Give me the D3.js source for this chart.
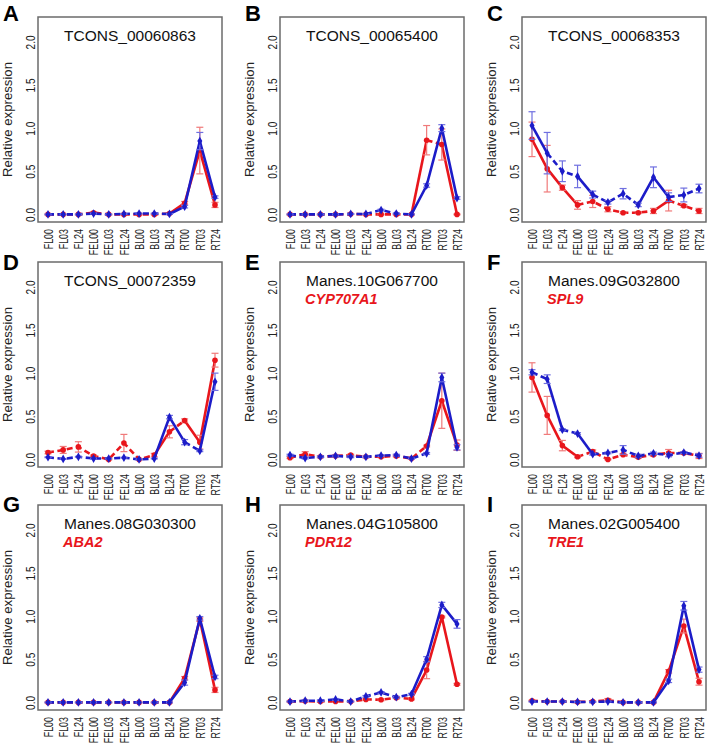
<!DOCTYPE html>
<html><head><meta charset="utf-8">
<script src="https://cdn.jsdelivr.net/npm/d3@7"></script>
<style>
body{margin:0;background:#fff}
svg{display:block}
text{font-family:"Liberation Sans",Arial,sans-serif}
</style>
</head><body>
<svg id="chart" width="709" height="747"></svg>
<script>
// ---------------- data ----------------
const categories = ["FL00","FL03","FL24","FEL00","FEL03","FEL24","BL00","BL03","BL24","RT00","RT03","RT24"];
const panelLetters = ["A","B","C","D","E","F","G","H","I"];
const panelTitles = ["TCONS_00060863","TCONS_00065400","TCONS_00068353","TCONS_00072359",
  "Manes.10G067700","Manes.09G032800","Manes.08G030300","Manes.04G105800","Manes.02G005400"];
const geneNames = ["","","","","CYP707A1","SPL9","ABA2","PDR12","TRE1"];
const yTicks = [0, 0.5, 1.0, 1.5, 2.0];
const yLabel = "Relative expression";

const redValues = [
  [0,0,0,0.02,0,0,0,0,0.01,0.13,0.74,0.11],
  [0,0,0,0,0.005,0,0,0,0,0.86,0.81,0],
  [0.87,0.53,0.31,0.11,0.15,0.06,0.02,0.02,0.04,0.16,0.10,0.04],
  [0.08,0.11,0.145,0.04,0.0,0.19,0.0,0.05,0.32,0.45,0.20,1.15],
  [0.02,0.06,0.03,0.04,0.05,0.03,0.03,0.04,0.01,0.155,0.68,0.165],
  [0.95,0.51,0.16,0.03,0.09,0.0,0.055,0.025,0.055,0.075,0.075,0.04],
  [0,0,0,0,0,0,0,0,0,0.28,0.96,0.145],
  [0.01,0.015,0.01,0.01,0.01,0.035,0.03,0.055,0.04,0.375,0.99,0.21],
  [0.02,0.01,0.01,0.005,0.01,0.025,0,0,0,0.36,0.885,0.24]
];
const redErrors = [
  [0.005,0.005,0.005,0.01,0.005,0.005,0.005,0.005,0.005,0.02,0.27,0.03],
  [0.005,0.005,0.005,0.005,0.005,0.005,0.005,0.005,0.005,0.17,0.18,0.005],
  [0.2,0.27,0.03,0.05,0.07,0.03,0.01,0.01,0.03,0.12,0.015,0.03],
  [0.015,0.04,0.06,0.01,0.005,0.1,0.005,0.02,0.07,0.02,0.08,0.08],
  [0.01,0.03,0.01,0.01,0.01,0.01,0.01,0.01,0.005,0.01,0.32,0.06],
  [0.17,0.22,0.06,0.01,0.02,0.005,0.01,0.01,0.01,0.04,0.01,0.03],
  [0.005,0.005,0.005,0.005,0.005,0.005,0.005,0.005,0.005,0.02,0.02,0.03],
  [0.005,0.01,0.01,0.01,0.005,0.01,0.01,0.01,0.01,0.1,0.01,0.01],
  [0.005,0.005,0.005,0.005,0.005,0.02,0.005,0.005,0.005,0.02,0.08,0.04]
];
const blueValues = [
  [0,0,0,0.01,0,0.005,0.01,0.01,0.005,0.09,0.85,0.2],
  [0,0,0,0,0.005,0.005,0.05,0.01,0,0.335,1.0,0.19],
  [1.03,0.71,0.50,0.44,0.23,0.14,0.24,0.11,0.43,0.20,0.225,0.30],
  [0.025,0.005,0.03,0.01,0.01,0.02,0.0,0.01,0.49,0.20,0.10,0.90],
  [0.05,0.015,0.03,0.04,0.03,0.03,0.045,0.05,0.01,0.07,0.95,0.14],
  [1.01,0.93,0.345,0.30,0.06,0.075,0.11,0.04,0.07,0.05,0.08,0.045],
  [0,0,0,0,0,0,0,0,0,0.23,0.975,0.295],
  [0.01,0.02,0.02,0.035,0.01,0.07,0.115,0.06,0.095,0.5,1.13,0.91],
  [0.01,0.01,0.01,0.005,0.005,0.01,0,0,0,0.25,1.12,0.38]
];
const blueErrors = [
  [0.005,0.005,0.005,0.005,0.005,0.005,0.005,0.005,0.005,0.015,0.1,0.015],
  [0.005,0.005,0.005,0.005,0.005,0.005,0.01,0.005,0.005,0.02,0.04,0.015],
  [0.16,0.24,0.12,0.13,0.04,0.02,0.06,0.02,0.12,0.05,0.08,0.05],
  [0.005,0.005,0.005,0.005,0.005,0.005,0.005,0.005,0.02,0.03,0.01,0.1],
  [0.01,0.01,0.01,0.01,0.01,0.01,0.01,0.01,0.005,0.01,0.05,0.03],
  [0.03,0.05,0.01,0.01,0.01,0.01,0.05,0.02,0.015,0.02,0.01,0.02],
  [0.005,0.005,0.005,0.005,0.005,0.005,0.005,0.005,0.005,0.03,0.02,0.02],
  [0.005,0.01,0.01,0.01,0.005,0.01,0.01,0.01,0.01,0.03,0.03,0.05],
  [0.005,0.005,0.005,0.005,0.005,0.005,0.005,0.005,0.005,0.02,0.05,0.03]
];
// significant change between consecutive samples (1 = significant)
const redSignificant = [
  [0,0,0,0,0,0,0,0,1,1,1],
  [0,0,0,0,0,0,0,0,1,0,1],
  [1,1,1,0,0,0,0,0,1,0,0],
  [0,0,0,0,0,0,0,1,0,1,1],
  [0,0,0,0,0,0,0,0,0,1,1],
  [1,1,1,0,0,0,0,0,0,0,0],
  [0,0,0,0,0,0,0,0,1,1,1],
  [0,0,0,0,0,0,0,0,1,1,1],
  [0,0,0,0,0,0,0,0,1,1,1]
];
const blueSignificant = [
  [0,0,0,0,0,0,0,0,1,1,1],
  [0,0,0,0,0,0,0,0,1,1,1],
  [1,0,0,1,0,0,0,1,1,0,0],
  [0,0,0,0,0,0,0,1,1,0,1],
  [0,0,0,0,0,0,0,0,0,1,1],
  [0,1,0,1,0,0,0,0,0,0,0],
  [0,0,0,0,0,0,0,0,1,1,1],
  [0,0,0,0,0,0,0,0,1,1,1],
  [0,0,0,0,0,0,0,0,1,1,1]
];

// ---------------- layout / style ----------------
const colLefts = [38, 280, 522];
const rowTops = [17, 262, 505];
const letterBase = [21, 270, 512];
const W = 184, H = 205;
const RED = "#e8161c", BLUE = "#1c1cc8";
const RED_ERR = "#f07a7a", BLUE_ERR = "#6f6fe0";

const svg = d3.select("#chart");

panelLetters.forEach((letter, p) => {
  const col = p % 3, row = Math.floor(p / 3);
  const L = colLefts[col], T = rowTops[row];
  const g = svg.append("g");

  const x = d3.scalePoint().domain(categories).range([L + 10, L + W - 7]);
  const y = d3.scaleLinear().domain([-0.088, 2.288]).range([T + H, T]);

  // frame
  g.append("rect").attr("x", L).attr("y", T).attr("width", W).attr("height", H)
    .attr("fill", "none").attr("stroke", "#6b6b6b").attr("stroke-width", 1.5);

  // y axis
  const ya = g.append("g").attr("transform", `translate(${L},0)`)
    .call(d3.axisLeft(y).tickValues(yTicks).tickFormat(d3.format(".1f")).tickSize(0));
  ya.select(".domain").remove();
  ya.selectAll("text")
    .attr("x", null).attr("dy", null).attr("text-anchor", "middle")
    .attr("transform", "translate(-3,0) rotate(-90) scale(0.78,1)")
    .attr("font-size", 13).attr("fill", "#222")
    .style("font-family", '"Liberation Sans",Arial,sans-serif');

  // x axis
  const xa = g.append("g").attr("transform", `translate(0,${T + H})`)
    .call(d3.axisBottom(x).tickSize(0));
  xa.select(".domain").remove();
  xa.selectAll("text")
    .attr("y", null).attr("dy", null).attr("text-anchor", "end")
    .attr("transform", "translate(4.2,7) rotate(-90) scale(0.74,1)")
    .attr("font-size", 12).attr("fill", "#222")
    .style("font-family", '"Liberation Sans",Arial,sans-serif');

  // y label
  g.append("text").attr("text-anchor", "middle")
    .attr("transform", `translate(${L - 26.5},${T + H / 2}) rotate(-90)`)
    .attr("font-size", 13.2).attr("fill", "#222").text(yLabel);

  // panel letter
  g.append("text").attr("x", L - 35).attr("y", letterBase[row])
    .attr("font-size", 22).attr("font-weight", "bold").attr("fill", "#000").text(letter);

  // title
  const title = g.append("text").attr("x", L + W / 2).attr("y", T + 23.5)
    .attr("text-anchor", "middle").attr("font-size", 15.5).attr("fill", "#111")
    .text(panelTitles[p]);
  if (geneNames[p]) {
    const tw = title.node().getComputedTextLength();
    g.append("text").attr("x", L + W / 2 - tw / 2 - 1).attr("y", T + 42)
      .attr("font-size", 14.5).attr("font-weight", "bold").attr("font-style", "italic")
      .attr("fill", "#e8161c").text(geneNames[p]);
  }

  const series = [
    {vals: redValues[p], errs: redErrors[p], sig: redSignificant[p], color: RED, ecol: RED_ERR, shape: "circle"},
    {vals: blueValues[p], errs: blueErrors[p], sig: blueSignificant[p], color: BLUE, ecol: BLUE_ERR, shape: "diamond"}
  ];
  const line = d3.line().x(d => x(d.c)).y(d => y(d.v));

  series.forEach(s => {
    const pts = categories.map((c, i) => ({c, v: s.vals[i], e: s.errs[i]}));
    // group consecutive segments with the same style into runs
    const runs = [];
    s.sig.forEach((f, i) => {
      const last = runs[runs.length - 1];
      if (last && last.f === f) last.end = i + 1;
      else runs.push({f, start: i, end: i + 1});
    });
    runs.forEach(r => {
      g.append("path").attr("d", line(pts.slice(r.start, r.end + 1)))
        .attr("fill", "none").attr("stroke", s.color).attr("stroke-width", 2.6)
        .attr("stroke-linejoin", "round")
        .attr("stroke-dasharray", r.f ? null : "6,3.5");
    });
    // error bars
    const eb = g.append("g").attr("stroke", s.ecol).attr("stroke-width", 1.2).attr("fill", "none");
    pts.forEach(d => {
      const cx = x(d.c), y1 = y(d.v - d.e), y2 = y(d.v + d.e);
      eb.append("line").attr("x1", cx).attr("x2", cx).attr("y1", y1).attr("y2", y2);
      eb.append("line").attr("x1", cx - 3.5).attr("x2", cx + 3.5).attr("y1", y1).attr("y2", y1);
      eb.append("line").attr("x1", cx - 3.5).attr("x2", cx + 3.5).attr("y1", y2).attr("y2", y2);
    });
    // points
    if (s.shape === "circle") {
      g.selectAll(null).data(pts).join("circle")
        .attr("cx", d => x(d.c)).attr("cy", d => y(d.v)).attr("r", 2.8).attr("fill", s.color);
    } else {
      const sym = d3.symbol().type(d3.symbolDiamond).size(22);
      g.selectAll(null).data(pts).join("path")
        .attr("d", sym).attr("transform", d => `translate(${x(d.c)},${y(d.v)})`).attr("fill", s.color);
    }
  });
});
</script>
</body></html>
